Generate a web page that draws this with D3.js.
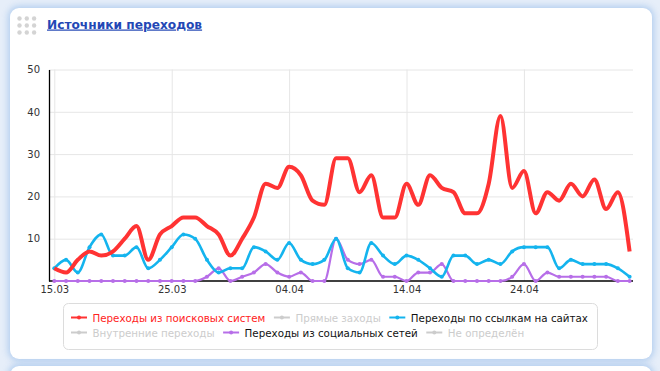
<!DOCTYPE html>
<html><head><meta charset="utf-8">
<script src="https://cdn.jsdelivr.net/npm/d3@7"></script>
<style>
html,body{margin:0;padding:0;width:660px;height:371px;overflow:hidden;background:#e6eef9;}
.panel{position:absolute;left:10px;top:8px;width:642px;height:351px;background:#fff;border-radius:9px;box-shadow:0 0 6px 2px rgba(165,198,236,0.8);}
.panel2{position:absolute;left:10px;top:366px;width:642px;height:40px;background:#fff;border-radius:9px;box-shadow:0 0 6px 2px rgba(165,198,236,0.8);}
svg{position:absolute;left:0;top:0;}
</style></head><body>
<div class="panel"></div><div class="panel2"></div>
<svg id="c" width="660" height="371"></svg>
<script>
const title = "Источники переходов";
const startDate = "15.03.2013";
const search = [3,2,5,7,6,7,10,13,5,11,13,15,15,13,11,6,10,15,23,22,27,25,19,18,29,29,21,25,15,15,23,18,25,22,21,16,16,23,39,22,26,16,21,19,23,20,24,17,21,7];
const links  = [3,5,2,8,11,6,6,8,3,5,8,11,10,5,2,3,3,8,7,5,9,5,4,5,10,3,2,9,6,4,6,5,3,1,6,6,4,5,4,7,8,8,8,3,5,4,4,4,3,1];
const social = [0,0,0,0,0,0,0,0,0,0,0,0,0,1,3,0,1,2,4,2,1,2,0,0,10,5,4,5,1,1,0,2,2,4,0,0,0,0,0,1,4,0,2,1,1,1,1,1,0,0];
const yTicks = [10,20,30,40,50];
const xTickLabels = ["15.03","25.03","04.04","14.04","24.04"];
const legendNames = ["Переходы из поисковых систем","Прямые заходы","Переходы по ссылкам на сайтах","Внутренние переходы","Переходы из социальных сетей","Не определён"];
const legendColors = ["#ff3333","#cccccc","#14b4ee","#cccccc","#b76ee8","#cccccc"];
const legendText = ["#ff2222","#cccccc","#111111","#cccccc","#111111","#cccccc"];

const svg = d3.select("#c");
const parse = d3.timeParse("%d.%m.%Y");
const start = parse(startDate);
const dates = search.map((_, i) => d3.timeDay.offset(start, i));
const year = startDate.slice(-4);
const xTickDates = xTickLabels.map(l => parse(l + "." + year));

const L = 49, R = 633, T = 69.5, B = 281;
const x = d3.scaleTime().domain([dates[0], dates[dates.length-1]]).range([54.3, 629.6]);
const y = d3.scaleLinear().domain([0, 50]).range([B, T]);

// title + grip dots
const grip = svg.append("g").attr("fill", "#d4d4d4");
for (let r = 0; r < 3; r++) for (let c = 0; c < 3; c++)
  grip.append("circle").attr("cx", 19.5 + c*7.3).attr("cy", 18.5 + r*7).attr("r", 2.2);
svg.append("text").attr("x", 47).attr("y", 28.5).text(title)
  .attr("font-family", "DejaVu Sans").attr("font-weight", "bold").attr("font-size", 12.2)
  .attr("fill", "#2347b5").attr("text-decoration", "underline");

// grid
svg.append("g").attr("transform", `translate(${L},0)`)
  .call(d3.axisLeft(y).tickValues(yTicks).tickSize(-(R-L)).tickFormat(""))
  .call(g => g.select(".domain").remove())
  .call(g => g.selectAll("line").attr("stroke", "#e6e6e6"));
svg.append("g").attr("transform", `translate(0,${B})`)
  .call(d3.axisBottom(x).tickValues(xTickDates).tickSize(-(B-T)).tickFormat(""))
  .call(g => g.select(".domain").remove())
  .call(g => g.selectAll("line").attr("stroke", "#e6e6e6"));

// axes
const ya = svg.append("g").attr("transform", `translate(${L},0)`)
  .call(d3.axisLeft(y).tickValues(yTicks).tickSize(0).tickSizeOuter(0).tickPadding(9));
ya.select(".domain").attr("stroke", "#000").attr("stroke-width", 1.3);
ya.selectAll("text").attr("font-family", "DejaVu Sans").attr("font-size", 10).attr("fill", "#333");
const xa = svg.append("g").attr("transform", `translate(0,${B})`)
  .call(d3.axisBottom(x).tickValues(xTickDates).tickSize(0).tickPadding(5).tickFormat(d3.timeFormat("%d.%m")));
xa.select(".domain").remove();
xa.selectAll("text").attr("font-family", "DejaVu Sans").attr("font-size", 10).attr("fill", "#333");
svg.append("line").attr("x1", L).attr("x2", R).attr("y1", B).attr("y2", B).attr("stroke", "#000").attr("stroke-width", 1.3);

// series
const line = d3.line().x((d, i) => x(dates[i])).y(d => y(d)).curve(d3.curveMonotoneX);
const series = [
  {vals: social, color: legendColors[4], w: 2.2, m: 2},
  {vals: links, color: legendColors[2], w: 2.6, m: 2},
  {vals: search, color: legendColors[0], w: 4, m: 0}
];
series.forEach(s => {
  svg.append("path").attr("d", line(s.vals)).attr("fill", "none")
    .attr("stroke", s.color).attr("stroke-width", s.w).attr("stroke-linejoin", "round");
  if (s.m) svg.append("g").selectAll("circle").data(s.vals).join("circle")
    .attr("cx", (d, i) => x(dates[i])).attr("cy", d => y(d)).attr("r", s.m).attr("fill", s.color);
});

// legend
svg.append("rect").attr("x", 63.5).attr("y", 303.5).attr("width", 534).attr("height", 46).attr("rx", 5)
  .attr("fill", "#fff").attr("stroke", "#dcdcdc");
let lx = 71;
legendNames.forEach((name, i) => {
  const row = Math.floor(i / 3);
  if (i % 3 === 0) lx = 71;
  const cy = 317.5 + row * 15;
  const g = svg.append("g");
  g.append("line").attr("x1", lx).attr("x2", lx + 16).attr("y1", cy).attr("y2", cy)
    .attr("stroke", legendColors[i]).attr("stroke-width", 2);
  g.append("circle").attr("cx", lx + 8).attr("cy", cy).attr("r", 2).attr("fill", legendColors[i]);
  const t = g.append("text").attr("x", lx + 21.5).attr("y", cy + 4).text(name)
    .attr("font-family", "DejaVu Sans").attr("font-size", 10.3).attr("fill", legendText[i]);
  lx += 21.5 + t.node().getComputedTextLength() + 8.5;
});
</script>
</body></html>
